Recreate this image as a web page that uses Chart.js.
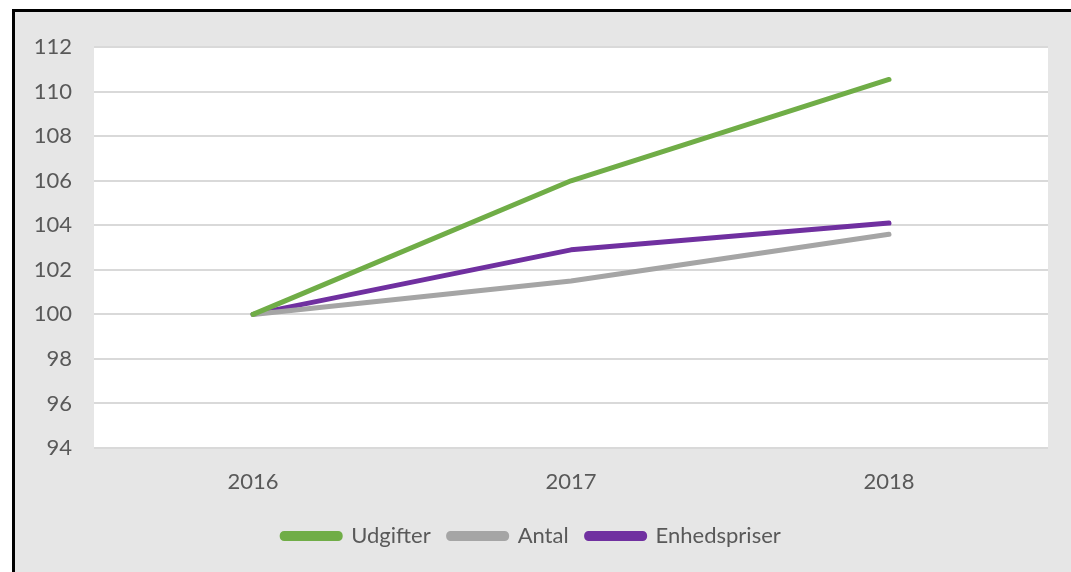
<!DOCTYPE html>
<html lang="da">
<head>
    <meta charset="UTF-8">
    <title>Udgifter, antal og enhedspriser</title>
    <script src="https://cdn.jsdelivr.net/npm/chart.js"></script>
    <style>
        html, body { margin: 0; padding: 0; background: #ffffff; overflow: hidden; }
        .frame {
            position: absolute;
            left: 12px;
            top: 9px;
            width: 1100px;
            height: 600px;
            background: #e6e6e6;
            border-left: 3px solid #000;
            border-top: 3px solid #000;
        }
        .chart-box { position: relative; width: 1056px; height: 560px; }
    </style>
</head>
<body>
    <div class="frame">
        <div class="chart-box"><canvas id="indexChart"></canvas></div>
    </div>

    <script>
        // Index, 2016 = 100
        const years = ['2016', '2017', '2018'];
        const udgifter = [100, 106.0, 110.55];
        const antal = [100, 101.5, 103.6];
        const enhedspriser = [100, 102.9, 104.1];

        const textColor = '#595959';
        const fontFamily = 'Lato, "Open Sans", sans-serif';

        // white plot area on the grey chart background
        const plotBackground = {
            id: 'plotBackground',
            beforeDraw(chart) {
                const { ctx, chartArea } = chart;
                ctx.save();
                ctx.fillStyle = '#ffffff';
                ctx.fillRect(chartArea.left, chartArea.top, chartArea.right - chartArea.left, chartArea.bottom - chartArea.top);
                ctx.restore();
            }
        };

        function lineSet(label, data, color) {
            return {
                label: label,
                data: data,
                borderColor: color,
                backgroundColor: color,
                borderWidth: 5,
                borderCapStyle: 'round',
                borderJoinStyle: 'round',
                pointRadius: 0,
                tension: 0,
                fill: false
            };
        }

        const ctx = document.getElementById('indexChart').getContext('2d');
        new Chart(ctx, {
            type: 'line',
            data: {
                labels: years,
                datasets: [
                    lineSet('Udgifter', udgifter, '#70ad47'),
                    lineSet('Antal', antal, '#a5a5a5'),
                    lineSet('Enhedspriser', enhedspriser, '#7030a0')
                ]
            },
            plugins: [plotBackground],
            options: {
                responsive: true,
                maintainAspectRatio: false,
                animation: false,
                layout: { padding: { top: 34, right: 23, bottom: 15, left: 0 } },
                plugins: {
                    tooltip: { enabled: false },
                    legend: {
                        position: 'bottom',
                        labels: {
                            color: textColor,
                            font: { family: fontFamily, size: 22 },
                            boxWidth: 58,
                            boxHeight: 5,
                            padding: 18,
                            useBorderRadius: true,
                            borderRadius: 2
                        }
                    }
                },
                scales: {
                    x: {
                        offset: true,
                        grid: { display: false, drawTicks: false },
                        border: { display: false },
                        ticks: {
                            color: textColor,
                            font: { family: fontFamily, size: 22 },
                            padding: 21
                        },
                        afterFit(scale) { scale.height = 59; }
                    },
                    y: {
                        min: 94,
                        max: 112,
                        ticks: {
                            stepSize: 2,
                            color: textColor,
                            font: { family: fontFamily, size: 22 },
                            padding: 22
                        },
                        grid: { color: '#d9d9d9', lineWidth: 2, drawTicks: false },
                        border: { display: false },
                        afterFit(scale) { scale.width = 79; }
                    }
                }
            }
        });
    </script>
</body>
</html>
